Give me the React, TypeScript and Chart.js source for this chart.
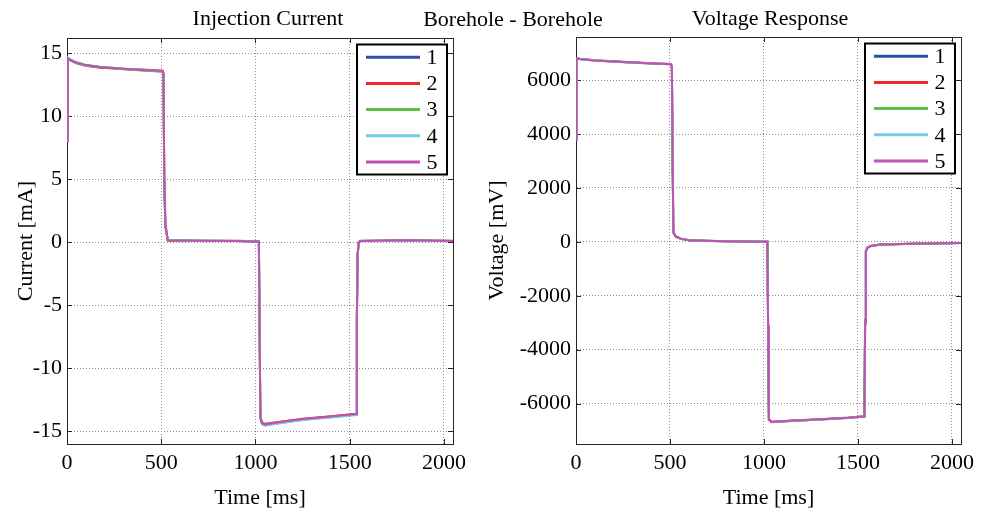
import { useEffect, useRef } from "react";
import { Chart, registerables } from "chart.js";

Chart.register(...registerables);

const FONT = "'Liberation Serif', 'Times New Roman', serif";

// ---- texts ----
const leftTitle = "Injection Current";
const centerTitle = "Borehole - Borehole";
const rightTitle = "Voltage Response";
const xAxisTitle = "Time [ms]";
const leftYTitle = "Current [mA]";
const rightYTitle = "Voltage [mV]";

// ---- series ----
const seriesLabels = ["1", "2", "3", "4", "5"];
const seriesColors = ["#2f4fa6", "#f02828", "#5cbf45", "#72cfe3", "#c052b4"];

// ---- ticks ----
const timeTicks = [0, 500, 1000, 1500, 2000];
const currentTicks = [-15, -10, -5, 0, 5, 10, 15];
const voltageTicks = [-6000, -4000, -2000, 0, 2000, 4000, 6000];

// ---- injection current (mA) ----
const timeI = [0, 4, 20, 50, 100, 175, 300, 400, 508, 512, 516, 522, 535, 700, 900, 1018, 1022, 1026, 1035, 1050, 1150, 1250, 1400, 1534, 1538, 1542, 1548, 1560, 1800, 2048];
const current1 = [8.0, 14.6, 14.45, 14.25, 14.05, 13.9, 13.75, 13.65, 13.55, 13.3, 5.0, 1.2, 0.15, 0.12, 0.1, 0.05, -7.0, -13.9, -14.35, -14.45, -14.25, -14.05, -13.85, -13.65, -6.0, -1.0, 0.0, 0.1, 0.15, 0.1];
const current2 = [8.2, 14.55, 14.4, 14.2, 14.0, 13.85, 13.75, 13.7, 13.6, 13.35, 5.2, 1.5, 0.1, 0.1, 0.12, 0.08, -6.8, -13.8, -14.3, -14.4, -14.2, -14.0, -13.8, -13.6, -5.8, -0.9, 0.05, 0.12, 0.12, 0.12];
const current3 = [8.1, 14.6, 14.42, 14.22, 14.02, 13.88, 13.72, 13.62, 13.52, 13.28, 4.9, 1.3, 0.12, 0.14, 0.1, 0.06, -7.1, -13.95, -14.4, -14.5, -14.3, -14.08, -13.88, -13.68, -6.1, -1.1, -0.02, 0.1, 0.14, 0.1];
const current4 = [8.0, 14.65, 14.5, 14.28, 14.06, 13.92, 13.78, 13.66, 13.56, 13.32, 5.1, 1.25, 0.18, 0.1, 0.1, 0.04, -7.2, -14.0, -14.45, -14.55, -14.32, -14.1, -13.9, -13.7, -6.2, -1.05, 0.0, 0.08, 0.12, 0.1];
const current5 = [8.0, 14.6, 14.45, 14.25, 14.05, 13.9, 13.76, 13.66, 13.58, 13.35, 5.0, 1.4, 0.15, 0.12, 0.1, 0.05, -7.0, -13.9, -14.35, -14.45, -14.22, -14.02, -13.82, -13.62, -6.0, -1.0, 0.0, 0.1, 0.15, 0.1];

// ---- voltage response (mV) ----
const timeV = [0, 3, 20, 100, 200, 300, 400, 505, 510, 514, 518, 530, 560, 610, 800, 1018, 1022, 1026, 1040, 1150, 1300, 1450, 1534, 1538, 1542, 1550, 1570, 1620, 1800, 2048];
const voltage1 = [3800, 6800, 6780, 6730, 6690, 6650, 6620, 6590, 6500, 3000, 350, 200, 110, 50, 20, 0, -3200, -6600, -6680, -6640, -6590, -6530, -6480, -3000, -350, -220, -150, -100, -70, -40];
const voltage2 = [3850, 6810, 6790, 6740, 6700, 6660, 6630, 6600, 6510, 3100, 360, 210, 110, 55, 20, 5, -3100, -6590, -6670, -6630, -6580, -6520, -6470, -2900, -340, -210, -140, -95, -65, -40];
const voltage3 = [3800, 6790, 6775, 6725, 6685, 6645, 6615, 6585, 6495, 2950, 340, 195, 105, 50, 15, 0, -3250, -6610, -6690, -6650, -6595, -6535, -6485, -3050, -360, -225, -155, -105, -70, -45];
const voltage4 = [3820, 6800, 6785, 6735, 6695, 6655, 6625, 6595, 6505, 3050, 355, 205, 115, 52, 20, 2, -3180, -6605, -6685, -6645, -6590, -6530, -6478, -2980, -345, -215, -148, -98, -68, -40];
const voltage5 = [3800, 6800, 6780, 6730, 6690, 6650, 6622, 6592, 6502, 3000, 350, 200, 110, 50, 20, 0, -3200, -6600, -6680, -6638, -6585, -6525, -6475, -3000, -350, -220, -150, -100, -70, -40];

const currentSeries = [current1, current2, current3, current4, current5];
const voltageSeries = [voltage1, voltage2, voltage3, voltage4, voltage5];

function buildDatasets(times: number[], series: number[][]) {
  return series.map((vals, i) => ({
    label: seriesLabels[i],
    data: times.map((t, k) => ({ x: t, y: vals[k] })),
    borderColor: seriesColors[i],
    backgroundColor: seriesColors[i],
    borderWidth: 2,
    pointRadius: 0,
    tension: 0,
    fill: false,
    order: series.length - 1 - i,
  }));
}

const framePlugin = {
  id: "frameBox",
  beforeDatasetsDraw(chart: any) {
    const { ctx, chartArea: a, scales } = chart;
    ctx.save();
    ctx.strokeStyle = "#262626";
    ctx.lineWidth = 1;
    ctx.strokeRect(Math.round(a.left) + 0.5, Math.round(a.top) + 0.5, Math.round(a.right - a.left), Math.round(a.bottom - a.top));
    const L = 5;
    ctx.beginPath();
    scales.x.ticks.forEach((t: any) => {
      const px = Math.round(scales.x.getPixelForValue(t.value)) + 0.5;
      ctx.moveTo(px, a.bottom);
      ctx.lineTo(px, a.bottom - L);
      ctx.moveTo(px, a.top);
      ctx.lineTo(px, a.top + L);
    });
    scales.y.ticks.forEach((t: any) => {
      const py = Math.round(scales.y.getPixelForValue(t.value)) + 0.5;
      ctx.moveTo(a.left, py);
      ctx.lineTo(a.left + L, py);
      ctx.moveTo(a.right, py);
      ctx.lineTo(a.right - L, py);
    });
    ctx.stroke();
    ctx.restore();
  },
};

const legendPlugin = {
  id: "boxLegend",
  afterDraw(chart: any) {
    const { ctx, chartArea: a } = chart;
    const ds = chart.data.datasets;
    const w = 90;
    const h = 130;
    const rowH = 26.2;
    const left = a.right - 6 - w;
    const top = a.top + 6.5;
    ctx.save();
    ctx.fillStyle = "#ffffff";
    ctx.fillRect(left, top, w, h);
    ctx.lineWidth = 2;
    ctx.strokeStyle = "#000000";
    ctx.strokeRect(left, top, w, h);
    ctx.font = `22px ${FONT}`;
    ctx.textAlign = "center";
    ctx.textBaseline = "middle";
    ds.forEach((d: any, i: number) => {
      const y = top + 12.7 + i * rowH;
      ctx.strokeStyle = d.borderColor;
      ctx.lineWidth = 3;
      ctx.beginPath();
      ctx.moveTo(left + 9, y);
      ctx.lineTo(left + 63, y);
      ctx.stroke();
      ctx.fillStyle = "#000000";
      ctx.fillText(d.label, left + 75, y + 1);
    });
    ctx.restore();
  },
};

const titlePlugin = {
  id: "freeTitles",
  afterDraw(chart: any, _args: any, opts: any) {
    const { ctx } = chart;
    ctx.save();
    ctx.font = `22px ${FONT}`;
    ctx.fillStyle = "#000000";
    ctx.textAlign = "center";
    ctx.textBaseline = "alphabetic";
    (opts.items || []).forEach((it: any) => ctx.fillText(it.text, it.x, it.y));
    ctx.restore();
  },
};

function makeConfig(opts: {
  times: number[];
  series: number[][];
  yMin: number;
  yMax: number;
  yTicks: number[];
  yTitle: string;
  padding: { left: number; right: number; top: number; bottom: number };
  yWidth: number;
  titles: { text: string; x: number; y: number }[];
}): any {
  const tickFont = { family: FONT, size: 22 };
  return {
    type: "line",
    data: { datasets: buildDatasets(opts.times, opts.series) },
    plugins: [framePlugin, legendPlugin, titlePlugin],
    options: {
      animation: false,
      responsive: false,
      events: [],
      layout: { padding: opts.padding },
      plugins: {
        legend: { display: false },
        tooltip: { enabled: false },
        title: { display: false },
        freeTitles: { items: opts.titles },
      },
      scales: {
        x: {
          type: "linear",
          min: 0,
          max: 2048,
          afterBuildTicks: (s: any) => {
            s.ticks = timeTicks.map((v) => ({ value: v }));
          },
          afterFit: (s: any) => {
            s.height = 71;
          },
          ticks: {
            font: tickFont,
            color: "#000000",
            padding: 6,
            maxRotation: 0,
            autoSkip: false,
            callback: (v: any) => String(v),
          },
          grid: { color: "#8f8f8f", lineWidth: 1, drawTicks: false },
          border: { display: true, color: "#262626", width: 1, dash: [1, 2] },
          title: {
            display: true,
            text: xAxisTitle,
            font: tickFont,
            color: "#000000",
            padding: { top: 0, bottom: 4 },
          },
        },
        y: {
          type: "linear",
          min: opts.yMin,
          max: opts.yMax,
          afterBuildTicks: (s: any) => {
            s.ticks = opts.yTicks.map((v) => ({ value: v }));
          },
          afterFit: (s: any) => {
            s.width = opts.yWidth;
          },
          ticks: {
            font: tickFont,
            color: "#000000",
            padding: 5,
            autoSkip: false,
            callback: (v: any) => String(v),
          },
          grid: { color: "#8f8f8f", lineWidth: 1, drawTicks: false },
          border: { display: true, color: "#262626", width: 1, dash: [1, 2] },
          title: {
            display: true,
            text: opts.yTitle,
            font: tickFont,
            color: "#000000",
            padding: { top: 13, bottom: 0 },
          },
        },
      },
    },
  };
}

export default function App() {
  const leftRef = useRef<HTMLCanvasElement>(null);
  const rightRef = useRef<HTMLCanvasElement>(null);

  useEffect(() => {
    const c1 = new Chart(
      leftRef.current as HTMLCanvasElement,
      makeConfig({
        times: timeI,
        series: currentSeries,
        yMin: -16,
        yMax: 16.2,
        yTicks: currentTicks,
        yTitle: leftYTitle,
        padding: { left: 0, right: 530, top: 38, bottom: 0 },
        yWidth: 67,
        titles: [
          { text: leftTitle, x: 268, y: 25 },
          { text: centerTitle, x: 513, y: 26 },
        ],
      })
    );
    const c2 = new Chart(
      rightRef.current as HTMLCanvasElement,
      makeConfig({
        times: timeV,
        series: voltageSeries,
        yMin: -7500,
        yMax: 7600,
        yTicks: voltageTicks,
        yTitle: rightYTitle,
        padding: { left: 471, right: 22, top: 37, bottom: 0 },
        yWidth: 105,
        titles: [{ text: rightTitle, x: 770, y: 25 }],
      })
    );
    return () => {
      c1.destroy();
      c2.destroy();
    };
  }, []);

  return (
    <div style={{ position: "absolute", left: 0, top: 0, width: 983, height: 515, background: "#ffffff" }}>
      <canvas ref={leftRef} width={983} height={515} style={{ position: "absolute", left: 0, top: 0 }} />
      <canvas ref={rightRef} width={983} height={515} style={{ position: "absolute", left: 0, top: 0 }} />
    </div>
  );
}
